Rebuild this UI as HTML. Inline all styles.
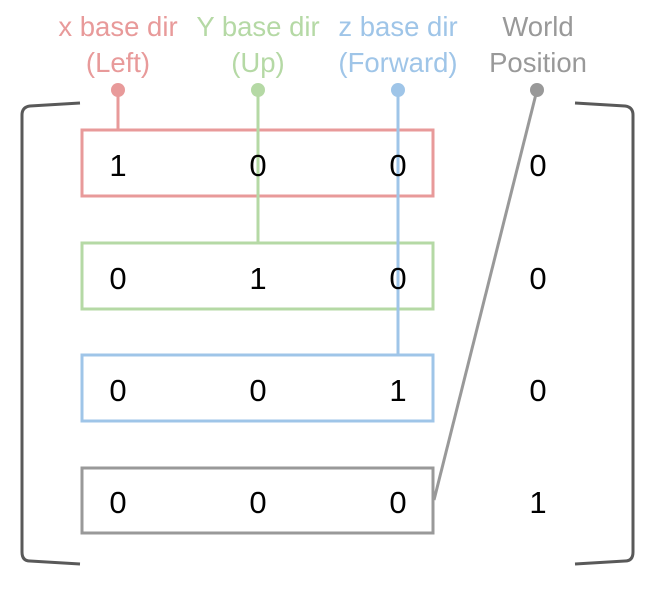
<!DOCTYPE html>
<html><head><meta charset="utf-8"><style>
html,body{margin:0;padding:0;background:#fff;}
svg text{font-family:"Liberation Sans",sans-serif;}
</style></head><body>
<svg width="658" height="596" viewBox="0 0 658 596">
<g font-size="27.5" text-anchor="middle">
  <text x="118" y="36" fill="#e89a9a">x base dir</text>
  <text x="118" y="72" fill="#e89a9a">(Left)</text>
  <text x="258" y="36" fill="#b5d9a5">Y base dir</text>
  <text x="258" y="72" fill="#b5d9a5">(Up)</text>
  <text x="398" y="36" fill="#9fc5e8">z base dir</text>
  <text x="398" y="72" fill="#9fc5e8">(Forward)</text>
  <text x="538" y="36" fill="#999">World</text>
  <text x="538" y="72" fill="#999">Position</text>
</g>
<g fill="none" stroke="#595959" stroke-width="3">
  <path d="M80 103 L30 106 Q22 107 22 115 L22 552 Q22 561 30 561 L80 564"/>
  <path d="M575 103 L625 106 Q633 107 633 115 L633 552 Q633 561 625 561 L575 564"/>
</g>
<g fill="none" stroke-width="3">
  <rect x="82" y="130" width="351" height="66" stroke="#e89a9a"/>
  <rect x="82" y="243" width="351" height="66" stroke="#b5d9a5"/>
  <rect x="82" y="355" width="351" height="66" stroke="#9fc5e8"/>
  <rect x="82" y="468" width="351" height="65" stroke="#999"/>
</g>
<g stroke-width="3">
  <line x1="118" y1="90" x2="118" y2="130" stroke="#e89a9a"/>
  <line x1="258" y1="90" x2="258" y2="243" stroke="#b5d9a5"/>
  <line x1="398" y1="90" x2="398" y2="355" stroke="#9fc5e8"/>
  <line x1="537" y1="90" x2="434" y2="500" stroke="#999"/>
  <circle cx="118" cy="90" r="7" fill="#e89a9a"/>
  <circle cx="258" cy="90" r="7" fill="#b5d9a5"/>
  <circle cx="398" cy="90" r="7" fill="#9fc5e8"/>
  <circle cx="537" cy="90" r="7" fill="#999"/>
</g>
<g font-size="31" text-anchor="middle" fill="#000">
  <text x="118" y="176">1</text>
  <text x="258" y="176">0</text>
  <text x="398" y="176">0</text>
  <text x="538" y="176">0</text>
  <text x="118" y="289">0</text>
  <text x="258" y="289">1</text>
  <text x="398" y="289">0</text>
  <text x="538" y="289">0</text>
  <text x="118" y="401">0</text>
  <text x="258" y="401">0</text>
  <text x="398" y="401">1</text>
  <text x="538" y="401">0</text>
  <text x="118" y="513">0</text>
  <text x="258" y="513">0</text>
  <text x="398" y="513">0</text>
  <text x="538" y="513">1</text>
</g>
</svg>
</body></html>
